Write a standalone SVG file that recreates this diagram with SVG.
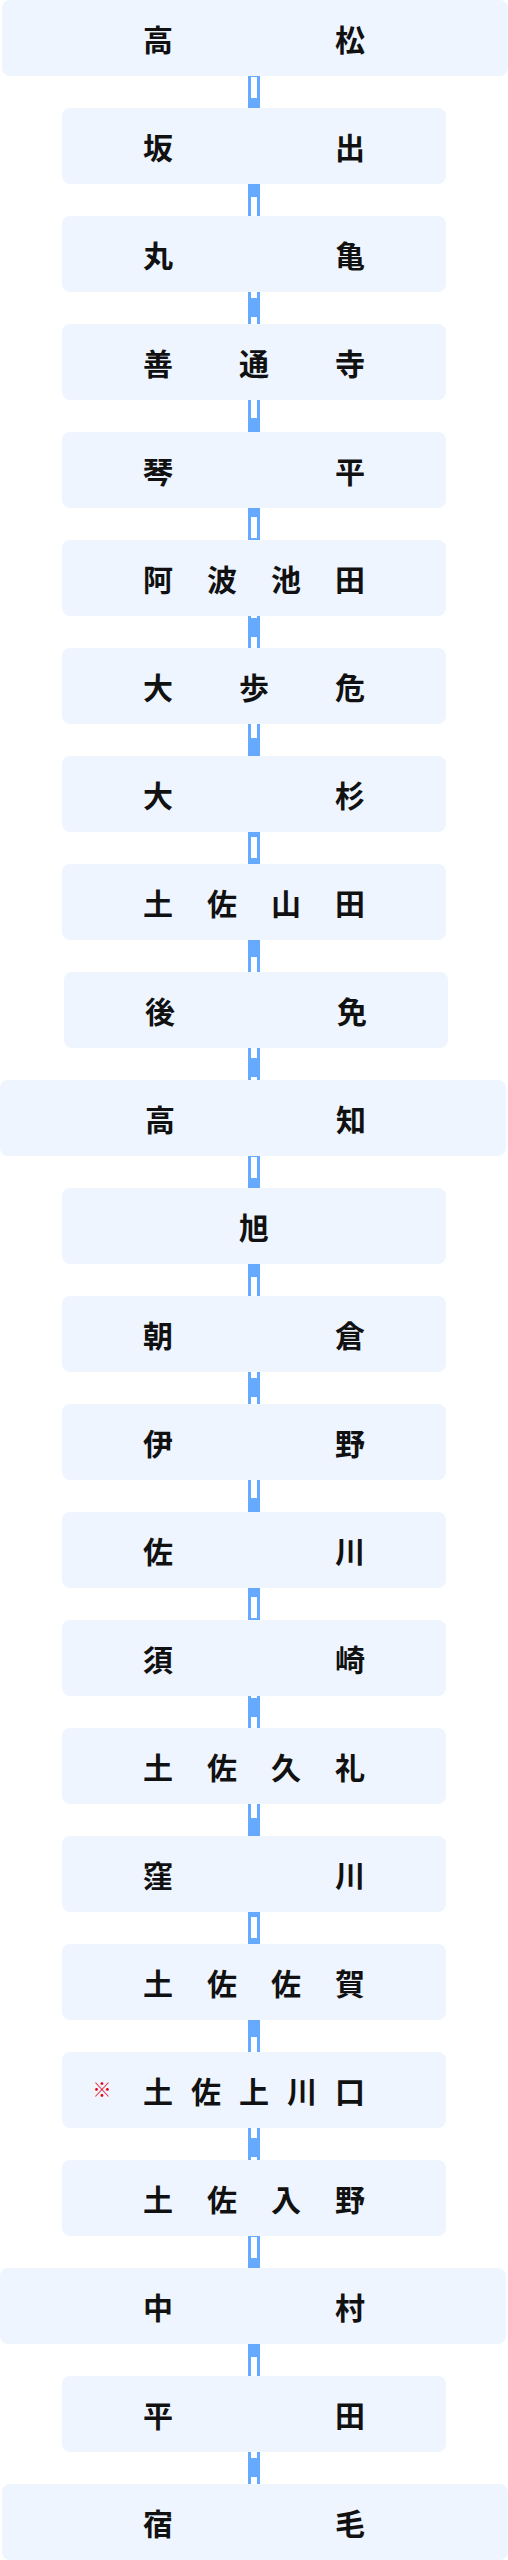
<svg xmlns="http://www.w3.org/2000/svg" width="508" height="2560" viewBox="0 0 508 2560">
<style>
.box{fill:#EEF5FF}
.t{font-family:"Noto Sans CJK JP","Noto Sans CJK SC",sans-serif;font-weight:700;font-size:30px;fill:#111;text-anchor:middle}
.mk{font-family:"Noto Sans CJK JP",sans-serif;font-size:19px;fill:#E60012;text-anchor:middle}
.rb{stroke:#66AAFF;stroke-width:12;fill:none}
.rw{stroke:#FFFFFF;stroke-width:6;fill:none;stroke-dasharray:21 19}
</style>
<g id="connectors">
<g id="c0"><line class="rb" x1="254" y1="76" x2="254" y2="108"/><line class="rw" x1="254" y1="76" x2="254" y2="108" style="stroke-dashoffset:39"/></g>
<g id="c1"><line class="rb" x1="254" y1="184" x2="254" y2="216"/><line class="rw" x1="254" y1="184" x2="254" y2="216" style="stroke-dashoffset:27"/></g>
<g id="c2"><line class="rb" x1="254" y1="292" x2="254" y2="324"/><line class="rw" x1="254" y1="292" x2="254" y2="324" style="stroke-dashoffset:15"/></g>
<g id="c3"><line class="rb" x1="254" y1="400" x2="254" y2="432"/><line class="rw" x1="254" y1="400" x2="254" y2="432" style="stroke-dashoffset:3"/></g>
<g id="c4"><line class="rb" x1="254" y1="508" x2="254" y2="540"/><line class="rw" x1="254" y1="508" x2="254" y2="540" style="stroke-dashoffset:31"/></g>
<g id="c5"><line class="rb" x1="254" y1="616" x2="254" y2="648"/><line class="rw" x1="254" y1="616" x2="254" y2="648" style="stroke-dashoffset:19"/></g>
<g id="c6"><line class="rb" x1="254" y1="724" x2="254" y2="756"/><line class="rw" x1="254" y1="724" x2="254" y2="756" style="stroke-dashoffset:7"/></g>
<g id="c7"><line class="rb" x1="254" y1="832" x2="254" y2="864"/><line class="rw" x1="254" y1="832" x2="254" y2="864" style="stroke-dashoffset:35"/></g>
<g id="c8"><line class="rb" x1="254" y1="940" x2="254" y2="972"/><line class="rw" x1="254" y1="940" x2="254" y2="972" style="stroke-dashoffset:23"/></g>
<g id="c9"><line class="rb" x1="254" y1="1048" x2="254" y2="1080"/><line class="rw" x1="254" y1="1048" x2="254" y2="1080" style="stroke-dashoffset:11"/></g>
<g id="c10"><line class="rb" x1="254" y1="1156" x2="254" y2="1188"/><line class="rw" x1="254" y1="1156" x2="254" y2="1188" style="stroke-dashoffset:39"/></g>
<g id="c11"><line class="rb" x1="254" y1="1264" x2="254" y2="1296"/><line class="rw" x1="254" y1="1264" x2="254" y2="1296" style="stroke-dashoffset:27"/></g>
<g id="c12"><line class="rb" x1="254" y1="1372" x2="254" y2="1404"/><line class="rw" x1="254" y1="1372" x2="254" y2="1404" style="stroke-dashoffset:15"/></g>
<g id="c13"><line class="rb" x1="254" y1="1480" x2="254" y2="1512"/><line class="rw" x1="254" y1="1480" x2="254" y2="1512" style="stroke-dashoffset:3"/></g>
<g id="c14"><line class="rb" x1="254" y1="1588" x2="254" y2="1620"/><line class="rw" x1="254" y1="1588" x2="254" y2="1620" style="stroke-dashoffset:31"/></g>
<g id="c15"><line class="rb" x1="254" y1="1696" x2="254" y2="1728"/><line class="rw" x1="254" y1="1696" x2="254" y2="1728" style="stroke-dashoffset:19"/></g>
<g id="c16"><line class="rb" x1="254" y1="1804" x2="254" y2="1836"/><line class="rw" x1="254" y1="1804" x2="254" y2="1836" style="stroke-dashoffset:7"/></g>
<g id="c17"><line class="rb" x1="254" y1="1912" x2="254" y2="1944"/><line class="rw" x1="254" y1="1912" x2="254" y2="1944" style="stroke-dashoffset:35"/></g>
<g id="c18"><line class="rb" x1="254" y1="2020" x2="254" y2="2052"/><line class="rw" x1="254" y1="2020" x2="254" y2="2052" style="stroke-dashoffset:23"/></g>
<g id="c19"><line class="rb" x1="254" y1="2128" x2="254" y2="2160"/><line class="rw" x1="254" y1="2128" x2="254" y2="2160" style="stroke-dashoffset:11"/></g>
<g id="c20"><line class="rb" x1="254" y1="2236" x2="254" y2="2268"/><line class="rw" x1="254" y1="2236" x2="254" y2="2268" style="stroke-dashoffset:39"/></g>
<g id="c21"><line class="rb" x1="254" y1="2344" x2="254" y2="2376"/><line class="rw" x1="254" y1="2344" x2="254" y2="2376" style="stroke-dashoffset:27"/></g>
<g id="c22"><line class="rb" x1="254" y1="2452" x2="254" y2="2484"/><line class="rw" x1="254" y1="2452" x2="254" y2="2484" style="stroke-dashoffset:15"/></g>
</g>
<g id="n0"><rect class="box" x="2" y="0" width="506" height="76" rx="8"/><text class="t" x="158 350" y="51">高松</text></g>
<g id="n1"><rect class="box" x="62" y="108" width="384" height="76" rx="8"/><text class="t" x="158 350" y="159">坂出</text></g>
<g id="n2"><rect class="box" x="62" y="216" width="384" height="76" rx="8"/><text class="t" x="158 350" y="267">丸亀</text></g>
<g id="n3"><rect class="box" x="62" y="324" width="384" height="76" rx="8"/><text class="t" x="158 254 350" y="375">善通寺</text></g>
<g id="n4"><rect class="box" x="62" y="432" width="384" height="76" rx="8"/><text class="t" x="158 350" y="483">琴平</text></g>
<g id="n5"><rect class="box" x="62" y="540" width="384" height="76" rx="8"/><text class="t" x="158 222 286 350" y="591">阿波池田</text></g>
<g id="n6"><rect class="box" x="62" y="648" width="384" height="76" rx="8"/><text class="t" x="158 254 350" y="699">大歩危</text></g>
<g id="n7"><rect class="box" x="62" y="756" width="384" height="76" rx="8"/><text class="t" x="158 350" y="807">大杉</text></g>
<g id="n8"><rect class="box" x="62" y="864" width="384" height="76" rx="8"/><text class="t" x="158 222 286 350" y="915">土佐山田</text></g>
<g id="n9"><rect class="box" x="64" y="972" width="384" height="76" rx="8"/><text class="t" x="160 352" y="1023">後免</text></g>
<g id="n10"><rect class="box" x="0" y="1080" width="506" height="76" rx="8"/><text class="t" x="160 351" y="1131">高知</text></g>
<g id="n11"><rect class="box" x="62" y="1188" width="384" height="76" rx="8"/><text class="t" x="254" y="1239">旭</text></g>
<g id="n12"><rect class="box" x="62" y="1296" width="384" height="76" rx="8"/><text class="t" x="158 350" y="1347">朝倉</text></g>
<g id="n13"><rect class="box" x="62" y="1404" width="384" height="76" rx="8"/><text class="t" x="158 350" y="1455">伊野</text></g>
<g id="n14"><rect class="box" x="62" y="1512" width="384" height="76" rx="8"/><text class="t" x="158 350" y="1563">佐川</text></g>
<g id="n15"><rect class="box" x="62" y="1620" width="384" height="76" rx="8"/><text class="t" x="158 350" y="1671">須崎</text></g>
<g id="n16"><rect class="box" x="62" y="1728" width="384" height="76" rx="8"/><text class="t" x="158 222 286 350" y="1779">土佐久礼</text></g>
<g id="n17"><rect class="box" x="62" y="1836" width="384" height="76" rx="8"/><text class="t" x="158 350" y="1887">窪川</text></g>
<g id="n18"><rect class="box" x="62" y="1944" width="384" height="76" rx="8"/><text class="t" x="158 222 286 350" y="1995">土佐佐賀</text></g>
<g id="n19"><rect class="box" x="62" y="2052" width="384" height="76" rx="8"/><text class="mk" x="102" y="2097">※</text><text class="t" x="158 206 254 302 350" y="2103">土佐上川口</text></g>
<g id="n20"><rect class="box" x="62" y="2160" width="384" height="76" rx="8"/><text class="t" x="158 222 286 350" y="2211">土佐入野</text></g>
<g id="n21"><rect class="box" x="0" y="2268" width="506" height="76" rx="8"/><text class="t" x="158 350" y="2319">中村</text></g>
<g id="n22"><rect class="box" x="62" y="2376" width="384" height="76" rx="8"/><text class="t" x="158 350" y="2427">平田</text></g>
<g id="n23"><rect class="box" x="2" y="2484" width="506" height="76" rx="8"/><text class="t" x="158 350" y="2535">宿毛</text></g>
</svg>
